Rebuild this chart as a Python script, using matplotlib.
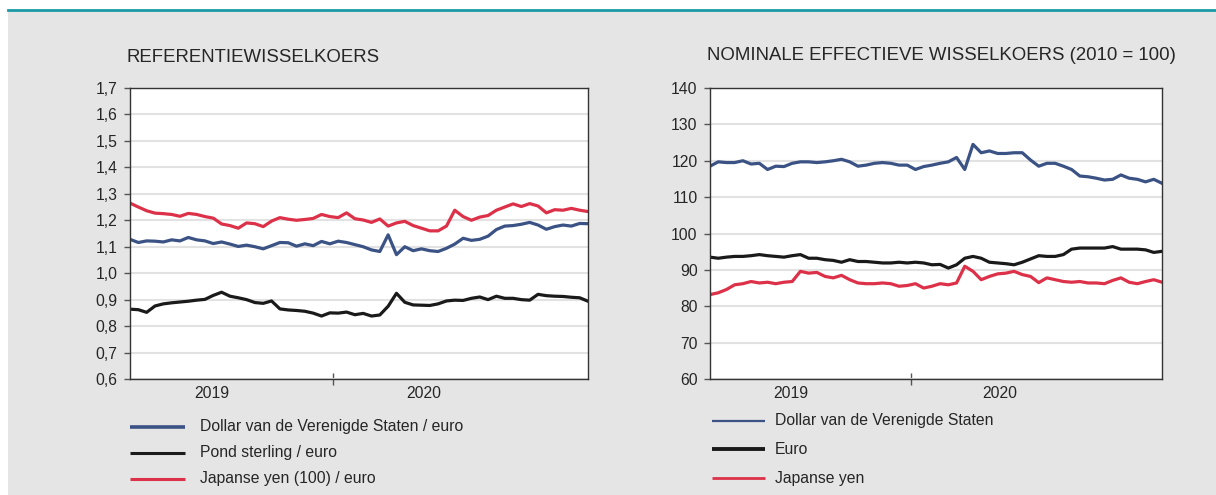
import numpy as np
import pandas as pd
import matplotlib
matplotlib.use("Agg")
import matplotlib.pyplot as plt
from matplotlib.lines import Line2D
from matplotlib.patches import Rectangle

plt.rcParams['font.family'] = ['Liberation Sans', 'DejaVu Sans']

# ============================================================
# Data (one point every 10 days)
# ============================================================

dates = pd.date_range('2019-05-02', periods=56, freq='10D')

usd_eur = [1.128, 1.116, 1.122, 1.121, 1.118, 1.126, 1.122, 1.135, 1.126, 1.122,
           1.112, 1.118, 1.110, 1.101, 1.106, 1.100, 1.092, 1.104, 1.116, 1.115,
           1.102, 1.111, 1.104, 1.120, 1.111, 1.121, 1.116, 1.108, 1.100, 1.088,
           1.082, 1.145, 1.070, 1.100, 1.085, 1.092, 1.085, 1.082, 1.094, 1.110,
           1.132, 1.124, 1.128, 1.140, 1.165, 1.178, 1.180, 1.185, 1.192, 1.182,
           1.166, 1.176, 1.182, 1.178, 1.188, 1.187]
gbp_eur = [0.864, 0.862, 0.852, 0.876, 0.884, 0.888, 0.891, 0.894, 0.898, 0.901,
           0.916, 0.928, 0.913, 0.907, 0.900, 0.889, 0.886, 0.895, 0.865, 0.861,
           0.859, 0.856, 0.849, 0.838, 0.850, 0.849, 0.853, 0.843, 0.848, 0.838,
           0.842, 0.875, 0.924, 0.890, 0.880, 0.879, 0.878, 0.884, 0.895, 0.898,
           0.897, 0.905, 0.910, 0.900, 0.913, 0.905, 0.905, 0.900, 0.898, 0.920,
           0.915, 0.913, 0.912, 0.909, 0.907, 0.894]
jpy_eur = [1.265, 1.250, 1.236, 1.227, 1.225, 1.222, 1.215, 1.226, 1.222, 1.214,
           1.208, 1.186, 1.180, 1.170, 1.190, 1.187, 1.176, 1.197, 1.210, 1.204,
           1.200, 1.203, 1.207, 1.222, 1.214, 1.210, 1.228, 1.206, 1.201, 1.192,
           1.205, 1.178, 1.190, 1.196, 1.180, 1.170, 1.160, 1.160, 1.178, 1.238,
           1.214, 1.200, 1.212, 1.218, 1.238, 1.250, 1.262, 1.252, 1.263, 1.254,
           1.228, 1.240, 1.238, 1.245, 1.238, 1.233]

usd_neer = [118.5, 119.7, 119.5, 119.5, 120.0, 119.1, 119.3, 117.6, 118.5, 118.4,
            119.3, 119.7, 119.7, 119.5, 119.7, 120.0, 120.4, 119.7, 118.5, 118.8,
            119.3, 119.5, 119.3, 118.8, 118.8, 117.6, 118.4, 118.8, 119.3, 119.7,
            120.9, 117.6, 124.5, 122.2, 122.7, 122.0, 122.0, 122.2, 122.2, 120.2,
            118.5, 119.3, 119.3, 118.5, 117.6, 115.8, 115.6, 115.2, 114.7, 114.9,
            116.1, 115.2, 114.9, 114.2, 114.9, 113.8]
eur_neer = [93.5, 93.2, 93.5, 93.7, 93.7, 93.9, 94.2, 93.9, 93.7, 93.5,
            93.9, 94.2, 93.2, 93.2, 92.8, 92.6, 92.1, 92.8, 92.3, 92.3,
            92.1, 91.9, 91.9, 92.1, 91.9, 92.1, 91.9, 91.4, 91.5, 90.5,
            91.4, 93.2, 93.7, 93.2, 92.1, 91.9, 91.7, 91.4, 92.1, 93.0,
            93.9, 93.7, 93.7, 94.2, 95.7, 96.0, 96.0, 96.0, 96.0, 96.4,
            95.7, 95.7, 95.7, 95.5, 94.8, 95.1]
jpy_neer = [83.2, 83.7, 84.6, 85.9, 86.2, 86.8, 86.4, 86.6, 86.2, 86.6,
            86.8, 89.6, 89.1, 89.3, 88.2, 87.8, 88.5, 87.3, 86.4, 86.2,
            86.2, 86.4, 86.2, 85.5, 85.7, 86.2, 85.0, 85.5, 86.2, 85.9,
            86.4, 91.0, 89.6, 87.3, 88.2, 88.9, 89.1, 89.6, 88.7, 88.2,
            86.5, 87.8, 87.3, 86.8, 86.6, 86.8, 86.4, 86.4, 86.2, 87.1,
            87.8, 86.6, 86.2, 86.8, 87.3, 86.6]

left_title = 'REFERENTIEWISSELKOERS'
right_title = 'NOMINALE EFFECTIEVE WISSELKOERS (2010 = 100)'
left_labels = ['Dollar van de Verenigde Staten / euro', 'Pond sterling / euro',
               'Japanse yen (100) / euro']
right_labels = ['Dollar van de Verenigde Staten', 'Euro', 'Japanse yen']
year_labels = ['2019', '2020']
year_label_dates = pd.to_datetime(['2019-08-08', '2020-04-19'])
year_break = pd.Timestamp('2020-01-01')

BLUE = '#3b5285'
BLACK = '#1a1a1a'
RED = '#dc3148'
TEXT = '#262626'

# ============================================================
# Figure
# ============================================================

W, H = 1216, 495
fig = plt.figure(figsize=(W / 100, H / 100), dpi=100, facecolor='white')


def fx(px):
    return px / W


def fy(py):
    return 1 - py / H


# gray panel and teal rule on top
fig.add_artist(Rectangle((fx(8), 0), 1 - fx(8), fy(11), transform=fig.transFigure,
                         facecolor='#e5e5e5', edgecolor='none', zorder=0))
fig.add_artist(Line2D([fx(8), 1], [fy(10), fy(10)], transform=fig.transFigure,
                      color='#1a9aa6', lw=2, zorder=1))


def setup_axes(ax, ylim, yticks, fmt):
    ax.set_facecolor('white')
    ax.set_xlim(dates[0], dates[-1])
    ax.set_ylim(*ylim)
    ax.set_yticks(yticks)
    ax.set_yticklabels([fmt(v) for v in yticks])
    ax.grid(axis='y', color='#e2e2e2', lw=1.5)
    ax.set_axisbelow(True)
    for sp in ax.spines.values():
        sp.set_color('#333333')
        sp.set_linewidth(1.0)
    ax.tick_params(axis='y', direction='out', length=4, width=1, color='#555555',
                   labelsize=11.3, labelcolor=TEXT, pad=5)
    # year separator tick crossing the axis
    ax.set_xticks([year_break])
    ax.set_xticklabels([''])
    ax.tick_params(axis='x', which='major', direction='inout', length=8, width=1,
                   color='#555555')
    ax.set_xticks(year_label_dates, minor=True)
    ax.set_xticklabels(year_labels, minor=True)
    ax.tick_params(axis='x', which='minor', length=0, labelsize=11.3,
                   labelcolor=TEXT, pad=5)


def draw_legend(x0, x1, xt, rows, labels, colors, widths):
    for y, lab, c, w in zip(rows, labels, colors, widths):
        fig.add_artist(Line2D([fx(x0), fx(x1)], [fy(y), fy(y)], transform=fig.transFigure,
                              color=c, lw=w, solid_capstyle='butt'))
        fig.text(fx(xt), fy(y), lab, fontsize=11.3, color=TEXT, va='center', ha='left')


# --- left panel ---
ax1 = fig.add_axes([fx(130), fy(379), fx(588 - 130), (379 - 88) / H])
setup_axes(ax1, (0.6, 1.7), np.round(np.arange(0.6, 1.71, 0.1), 1),
           lambda v: f'{v:.1f}'.replace('.', ','))
ax1.plot(dates, gbp_eur, color=BLACK, lw=2.3)
ax1.plot(dates, usd_eur, color=BLUE, lw=2.3)
ax1.plot(dates, jpy_eur, color=RED, lw=2.3)
fig.text(fx(127), fy(58), left_title, fontsize=13.4, color=TEXT, va='center', ha='left')
draw_legend(130, 185, 200, [427, 453, 479], left_labels,
            [BLUE, BLACK, RED], [2.6, 2.2, 2.2])

# --- right panel ---
ax2 = fig.add_axes([fx(710), fy(379), fx(1162 - 710), (379 - 88) / H])
setup_axes(ax2, (60, 140), np.arange(60, 141, 10), lambda v: f'{v:d}')
ax2.plot(dates, eur_neer, color=BLACK, lw=2.3)
ax2.plot(dates, jpy_neer, color=RED, lw=2.3)
ax2.plot(dates, usd_neer, color=BLUE, lw=2.3)
fig.text(fx(707), fy(55), right_title, fontsize=13.4, color=TEXT, va='center', ha='left')
draw_legend(712, 765, 775, [421, 449, 478], right_labels,
            [BLUE, BLACK, RED], [1.6, 2.8, 2.0])

fig.savefig('out.png', dpi=100, facecolor=fig.get_facecolor())
